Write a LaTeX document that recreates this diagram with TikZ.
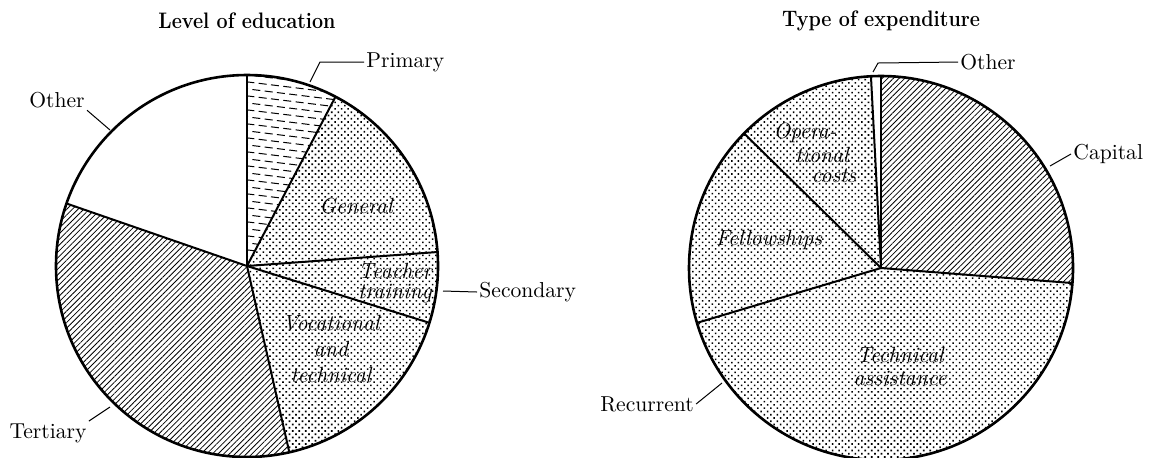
\documentclass[tikz,border=0pt]{standalone}
\usepackage{tikz}
\usetikzlibrary{patterns,patterns.meta,positioning}

\tikzset{
  lbl/.style={inner sep=1pt,font=\fontsize{10.8}{12}\selectfont},
  slbl/.style={inner sep=0pt,align=center,font=\fontsize{11}{11}\selectfont\itshape},
  ttl/.style={inner sep=0pt,xscale=0.88,transform shape,font=\fontsize{11.2}{12}\selectfont\bfseries},
  dotfill/.style={pattern={Dots[distance=2.3pt,radius=0.55pt,angle=45]}},
  hatch/.style={pattern={Lines[angle=45,distance=2pt,line width=0.4pt]}},
  rim/.style={line width=1.3pt},
  seg/.style={line width=1pt},
  lead/.style={line width=0.5pt}
}

\begin{document}
\begin{tikzpicture}[x=0.5pt,y=0.5pt]
\useasboundingbox (0,0) rectangle (1154,-457);

\coordinate (cL) at (247,-266);
\coordinate (cR) at (881,-268);

\fill[hatch] (cL) -- ++(160.9:191) arc (160.9:282.8:191) -- cycle;
\fill[dotfill] (cL) -- ++(-77.2:191) arc (-77.2:62.4:191) -- cycle;
\begin{scope}
\clip (cL) -- ++(62.4:191) arc (62.4:90:191) -- cycle;
\foreach \k in {0,...,30} {
\pgfmathsetmacro\ph{mod(\k,2)*3}
\draw[line width=0.5pt,dash pattern=on 4pt off 2.2pt,dash phase=\ph pt] (240,-74-7*\k) -- ++(-7:200);
}
\end{scope}
\foreach \a in {90,62.4,4.2,-17.3,-77.2,160.9} {
\draw[seg] (cL) -- ++(\a:191);
}
\draw[rim] (cL) circle (191);

\fill[hatch] (cR) -- ++(-4.5:192) arc (-4.5:90:192) -- cycle;
\fill[dotfill] (cR) -- ++(93:192) arc (93:355.5:192) -- cycle;
\foreach \a in {90,93,135.5,196.6,-4.5} {
\draw[seg] (cR) -- ++(\a:192);
}
\draw[rim] (cR) circle (192);

\node[ttl] (tL) at (247,-21) {Level of education};
\node[ttl] (tR) at (881,-21) {Type of expenditure};

\coordinate (p0) at (310,-82);
\coordinate (p1) at (320,-62);
\coordinate (o0) at (110,-130);
\coordinate (t0) at (110,-407);
\coordinate (s0) at (443,-291);
\coordinate (q0) at (873,-72);
\coordinate (q1) at (878,-63);
\coordinate (k0) at (1050,-166);
\coordinate (r0) at (722,-383);

\node[lbl,anchor=west] (lPrim) at (364,-62) {Primary};
\node[lbl] (lOthL) at (57,-100) {Other};
\node[lbl] (lTer) at (48,-433) {Tertiary};
\node[lbl,anchor=west] (lSec) at (477,-292) {Secondary};
\node[lbl,anchor=west] (lOthR) at (958,-62) {Other};
\node[lbl,anchor=west] (lCap) at (1071,-154) {Capital};
\node[lbl] (lRec) at (647,-404) {Recurrent};

\draw[lead] (p0) -- (p1) -- (lPrim.west);
\draw[lead] (lOthL.south east) -- (o0);
\draw[lead] (lTer.north east) -- (t0);
\draw[lead] (s0) -- (lSec.west);
\draw[lead] (q0) -- (q1) -- (lOthR.west);
\draw[lead] (k0) -- (lCap.west);
\draw[lead] (lRec.east) -- (r0);

\node[slbl] (sGen) at (356,-206) {General};
\node[slbl,font=\fontsize{11}{10}\selectfont\itshape] (sTea) at (395,-283) {Teacher\\training};
\node[slbl,font=\fontsize{11}{12.8}\selectfont\itshape] (sVoc) at (331,-349) {Vocational\\and\\technical};
\node[slbl] (sFel) at (769,-240) {Fellowships};
\node[slbl,font=\fontsize{11}{11.5}\selectfont\itshape] (sTec) at (900,-366) {Technical\\assistance};
\node[slbl] (sOp1) at (805,-133) {Opera-};
\node[slbl] (sOp2) at (822,-155) {tional};
\node[slbl] (sOp3) at (834,-176) {costs};
\end{tikzpicture}
\end{document}
